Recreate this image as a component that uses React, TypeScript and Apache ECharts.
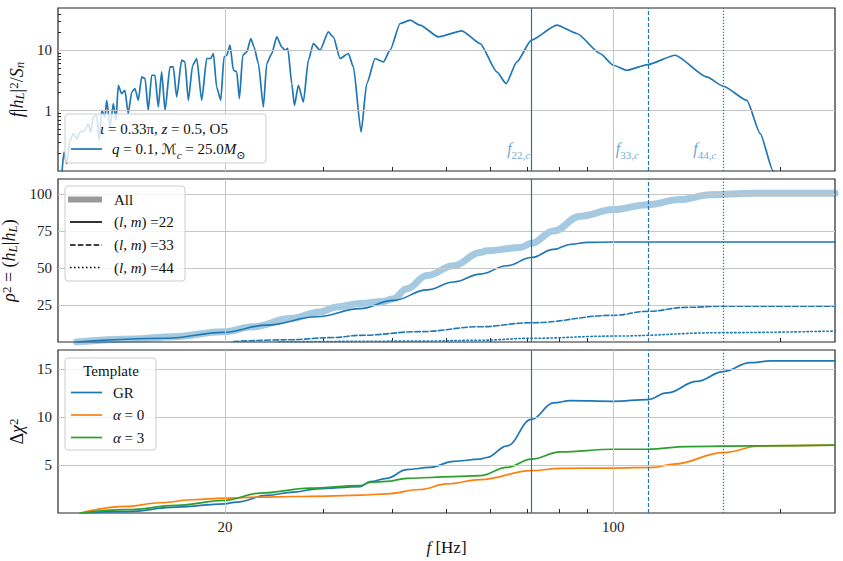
import React, { useEffect, useRef } from "react";
import * as echarts from "echarts";

// ---------- data ----------
const F_MIN = 10;
const F_MAX = 251;
const X_TICKS = [20, 30, 40, 50, 60, 70, 80, 90, 100, 200];
const X_LABELS = [20, 100];
const Y0_TICKS = [0.2, 0.3, 0.4, 0.5, 0.6, 0.7, 0.8, 0.9, 1, 2, 3, 4, 5, 6, 7, 8, 9, 10, 20, 30, 40];
const Y0_LABELS = [1, 10];
const Y1_LABELS = [25, 50, 75, 100];
const Y2_LABELS = [5, 10, 15];

// cut-off frequencies f22,c f33,c f44,c
const F_CUT = [71.2, 115.5, 158];
const CUT_NAMES = ["22,", "33,", "44,"];

// f |h_L|^2 / S_n
const psd: [number, number][] = [
  [10.15, 0.08], [10.25, 0.206], [10.37, 0.132], [10.51, 0.322], [10.66, 0.415], [10.81, 0.343],
  [10.96, 0.442], [11.18, 0.471], [11.34, 0.609], [11.45, 0.442], [11.58, 0.783], [11.74, 0.836],
  [11.87, 0.322], [11.99, 1.01], [12.15, 0.783], [12.24, 1.48], [12.41, 0.535], [12.58, 1.31],
  [12.72, 0.69], [12.84, 2.63], [13.02, 1.91], [13.2, 2.17], [13.38, 0.89], [13.58, 2.03],
  [13.76, 2.32], [13.95, 1.48], [14.15, 3.61], [14.35, 3.4], [14.54, 1.01], [14.75, 3.85],
  [14.95, 3.85], [15.16, 1.15], [15.37, 4.37], [15.59, 1.01], [15.91, 5.28], [16.13, 5.28],
  [16.36, 1.68], [16.7, 6.83], [16.93, 6.4], [17.17, 1.48], [17.48, 5.64], [17.78, 7.29],
  [18.15, 1.48], [18.53, 7.29], [18.84, 7.29], [19.05, 8.82], [19.31, 2.46], [19.64, 1.48],
  [19.91, 7.74], [20.14, 8.26], [20.41, 12.1], [20.7, 4.66], [20.99, 4.37], [21.22, 1.58],
  [21.52, 8.26], [21.88, 9.37], [22.25, 15.6], [22.55, 11.3], [22.96, 6.02], [23.44, 1.15],
  [23.77, 6.02], [24.27, 8.82], [24.78, 16.6], [25.3, 11.3], [25.64, 10], [25.94, 10.7],
  [26.37, 2.8], [26.66, 1.22], [27.1, 2.63], [27.67, 1.39], [28.25, 6.83], [28.84, 12.9],
  [29.65, 10], [30.69, 20.1], [31.33, 16.6], [32.22, 7.29], [33.35, 8.82], [34.05, 5.28],
  [35.15, 0.442], [35.99, 2.8], [37.26, 7.29], [38.56, 6.4], [39.65, 10], [41.33, 27.7],
  [43.08, 31.4], [44.91, 26.0], [48.44, 16.6], [53.39, 20.9], [57.6, 12.9], [61.73, 4.37],
  [64.15, 2.8], [67.07, 6.4], [71.25, 14.7], [79.17, 26.0], [86.04, 18.9], [94.76, 8.82],
  [100.1, 5.64], [105.8, 4.66], [115.5, 5.79], [129.3, 8.26], [147.5, 3.61], [158.0, 2.53],
  [174.1, 1.48], [184.1, 0.415], [194.0, 0.102], [200, 0.05],
];

// rho^2 = (h_L|h_L)
const rhoAll: [number, number][] = [
  [10.8, 0], [13.67, 2.0], [16.13, 3.6], [19.85, 6.9], [22.48, 10.3], [26.18, 15.8],
  [29.65, 20.3], [31.78, 23.7], [35.0, 25.9], [38.56, 27.4], [40.2, 29.2], [42.5, 35.9],
  [46.2, 44.8], [51.6, 51.5], [57.6, 60.4], [59.2, 61.5], [68.0, 63.8], [71.25, 66.6],
  [78.1, 74.9], [87.2, 84.9], [100.1, 89.4], [115.5, 92.7], [132.0, 96.1], [149.6, 99.4],
  [178.9, 100.3], [251.2, 100.3],
];
const rho22: [number, number][] = [
  [10.8, 0], [15.7, 2.5], [19.85, 6.5], [23.77, 11.4], [29.25, 17], [35.0, 22.5],
  [40.2, 28.1], [46.2, 35.2], [51.6, 40.5], [57.6, 45.8], [64.4, 51.5], [71.25, 57],
  [78.1, 62.5], [84.0, 66.0], [90.0, 67.2], [100, 67.5], [251.2, 67.5],
];
const rho33: [number, number][] = [
  [20.7, 0.3], [26, 1.5], [31.3, 3], [35, 4.5], [44.9, 7], [57.6, 10.3], [71.25, 13],
  [100, 18], [115.5, 20.7], [135.8, 23.4], [158, 24.1], [251.2, 24.1],
];
const rho44: [number, number][] = [
  [25, 0.1], [45, 0.6], [57.6, 1.2], [71.25, 2.5], [100, 4], [158, 6.3], [251.2, 7.4],
];

// Delta chi^2
const chiGR: [number, number][] = [
  [10.96, 0], [13.3, 0.15], [16.36, 0.62], [19.94, 0.96], [20.99, 1.14], [23.77, 1.83],
  [26.55, 2.18], [29.25, 2.52], [35.0, 2.76], [36.5, 3.27], [39.1, 3.62], [42.5, 4.52],
  [46.8, 4.76], [51.6, 5.38], [57.6, 5.62], [59.2, 5.79], [64.4, 7.0], [71.25, 9.76],
  [78.1, 11.48], [83.7, 11.72], [100, 11.65], [115.5, 11.83], [124.9, 12.52], [141.5, 13.72],
  [158, 14.75], [176.5, 15.68], [191.9, 15.86], [251.2, 15.86],
];
const chiA0: [number, number][] = [
  [10.96, 0], [13.3, 0.69], [15.27, 1.07], [17.53, 1.38], [19.94, 1.55], [23.12, 1.65],
  [26.55, 1.72], [30.49, 1.76], [35.0, 1.86], [39.1, 2.0], [44.9, 2.45], [50.2, 3.03],
  [57.6, 3.48], [71.25, 4.41], [80.3, 4.66], [100, 4.69], [118.2, 4.76], [128.4, 5.1],
  [158, 6.3], [184.1, 7.0], [251.2, 7.07],
];
const chiA3: [number, number][] = [
  [10.96, 0], [13.3, 0.35], [16.36, 0.79], [19.94, 1.31], [23.12, 2.07], [28.45, 2.59],
  [35.0, 2.86], [36.5, 3.2], [39.1, 3.3], [42.5, 3.62], [51.6, 3.79], [57.6, 3.89],
  [64.4, 4.76], [71.25, 5.62], [80.3, 6.38], [100, 6.65], [115.5, 6.65], [135.8, 6.93],
  [178.9, 7.0], [251.2, 7.07],
];

// ---------- style ----------
const FONT = '"Liberation Serif", "DejaVu Serif", serif';
const MATHFONT = '"Liberation Serif", "DejaVu Serif", "DejaVu Sans", serif';
const BLUE = "#1f77b4";
const ORANGE = "#ff7f0e";
const GREEN = "#2ca02c";
const GRIDC = "#c6c6c6";
const AXC = "#262626";
const CUT_TYPES: any[] = ["solid", [4, 2], [1.2, 1.8]];

const GRIDS = [
  { left: 58, top: 8, width: 777, height: 163 },
  { left: 58, top: 179, width: 777, height: 163 },
  { left: 58, top: 350, width: 777, height: 163 },
];

const richBase = (size: number, color = "#111", lh = size + 8) => ({
  i: { fontFamily: MATHFONT, fontStyle: "italic", fontSize: size, color, lineHeight: lh },
  r: { fontFamily: MATHFONT, fontSize: size, color, lineHeight: lh },
  sub: { fontFamily: MATHFONT, fontSize: Math.round(size * 0.7), color, verticalAlign: "bottom" },
  subi: { fontFamily: MATHFONT, fontStyle: "italic", fontSize: Math.round(size * 0.7), color, verticalAlign: "bottom" },
  sup: { fontFamily: MATHFONT, fontSize: Math.round(size * 0.7), color, verticalAlign: "top" },
  s: { fontFamily: '"DejaVu Serif", "DejaVu Sans", serif', fontStyle: "italic", fontSize: size - 1, color, lineHeight: lh },
});

function gridLines(idx: number, xs: number[], ys: number[]) {
  return {
    type: "line",
    xAxisIndex: idx,
    yAxisIndex: idx,
    data: [],
    z: 1,
    silent: true,
    markLine: {
      silent: true,
      symbol: ["none", "none"],
      label: { show: false },
      animation: false,
      lineStyle: { color: GRIDC, width: 1, type: "solid" },
      data: [...xs.map((v) => ({ xAxis: v })), ...ys.map((v) => ({ yAxis: v }))],
    },
  };
}

function cutLine(idx: number, k: number) {
  return {
    type: "line",
    xAxisIndex: idx,
    yAxisIndex: idx,
    data: [],
    z: 2,
    silent: true,
    color: BLUE,
    markLine: {
      silent: true,
      symbol: ["none", "none"],
      label: { show: false },
      animation: false,
      lineStyle: { color: BLUE, width: 1.2, type: CUT_TYPES[k], opacity: 1 },
      data: [{ xAxis: F_CUT[k] }],
    },
  };
}

function curve(idx: number, data: [number, number][], color: string, width: number, type: any = "solid", z = 3, smooth = 0.3) {
  return {
    type: "line",
    xAxisIndex: idx,
    yAxisIndex: idx,
    data,
    showSymbol: false,
    symbol: "none",
    smooth,
    smoothMonotone: "x",
    clip: true,
    z,
    lineStyle: { color, width, type, cap: "round", join: "round" },
    silent: true,
  };
}

function legendBox(x: number, y: number, w: number, h: number) {
  return {
    type: "rect",
    z: 100,
    shape: { x, y, width: w, height: h, r: 3 },
    style: { fill: "rgba(255,255,255,0.8)", stroke: "#cccccc", lineWidth: 1 },
  };
}
function legendLine(x1: number, x2: number, y: number, color: string, width: number, dash: any = null) {
  return {
    type: "line",
    z: 101,
    shape: { x1, y1: y, x2, y2: y },
    style: { stroke: color, lineWidth: width, lineDash: dash },
  };
}
function legendText(x: number, y: number, text: string, align = "left") {
  return {
    type: "text",
    z: 101,
    x,
    y,
    style: {
      text,
      rich: richBase(15),
      fontFamily: FONT,
      fontSize: 15,
      fill: "#111",
      align,
      verticalAlign: "middle",
    },
  };
}

export default function App() {
  const ref = useRef<HTMLDivElement>(null);
  useEffect(() => {
    if (!ref.current) return;
    const chart = echarts.init(ref.current, null, { renderer: "svg" });

    const xAxes = [0, 1, 2].map((i) => ({
      type: "log",
      logBase: 10,
      gridIndex: i,
      min: F_MIN,
      max: F_MAX,
      axisLine: { show: false },
      axisTick: { show: true, inside: true, length: 4, customValues: X_TICKS, lineStyle: { color: AXC, width: 1 } },
      axisLabel: {
        show: i === 2,
        customValues: X_LABELS,
        fontFamily: FONT,
        fontSize: 15,
        color: "#222",
        margin: 6,
      },
      splitLine: { show: false },
      minorTick: { show: false },
      name: i === 2 ? "{i|f} [Hz]" : "",
      nameLocation: "middle",
      nameGap: 22,
      nameTextStyle: { fontFamily: FONT, fontSize: 17, color: "#111", rich: richBase(17) },
    }));

    const yName = {
      nameLocation: "middle",
      nameTextStyle: { fontFamily: FONT, fontSize: 18, color: "#111", lineHeight: 19, rich: richBase(18, "#111", 19) },
    };
    const yLab = { fontFamily: FONT, fontSize: 15, color: "#222", margin: 6 };

    const yAxes = [
      {
        type: "log",
        logBase: 10,
        gridIndex: 0,
        min: 0.1,
        max: 50,
        axisLine: { show: false },
        axisTick: { show: true, inside: true, length: 3, customValues: Y0_TICKS, lineStyle: { color: AXC } },
        axisLabel: { ...yLab, customValues: Y0_LABELS },
        splitLine: { show: false },
        name: "{i|f}|{i|h}{subi|L}|{sup|2}/{i|S}{subi|n}",
        nameGap: 25,
        ...yName,
      },
      {
        type: "value",
        gridIndex: 1,
        min: 0,
        max: 110,
        axisLine: { show: false },
        axisTick: { show: true, inside: true, length: 4, customValues: Y1_LABELS, lineStyle: { color: AXC } },
        axisLabel: { ...yLab, customValues: Y1_LABELS },
        splitLine: { show: false },
        name: "{i|ρ}{sup|2} = ({i|h}{subi|L}|{i|h}{subi|L})",
        nameGap: 30,
        ...yName,
      },
      {
        type: "value",
        gridIndex: 2,
        min: 0,
        max: 17,
        axisLine: { show: false },
        axisTick: { show: true, inside: true, length: 4, customValues: Y2_LABELS, lineStyle: { color: AXC } },
        axisLabel: { ...yLab, customValues: Y2_LABELS },
        splitLine: { show: false },
        name: "Δ{i|χ}{sup|2}",
        nameGap: 26,
        ...yName,
      },
    ];

    const cutLabelColor = "rgba(31,119,180,0.85)";
    const cutDist = [1, 9, 7];

    const series: any[] = [
      gridLines(0, X_LABELS, Y0_LABELS),
      gridLines(1, X_LABELS, Y1_LABELS),
      gridLines(2, X_LABELS, Y2_LABELS),
      ...[0, 1, 2].flatMap((g) => [0, 1, 2].map((k) => cutLine(g, k))),
      curve(0, psd, BLUE, 1.7, "solid", 3, 0.2),
      {
        type: "scatter",
        xAxisIndex: 0,
        yAxisIndex: 0,
        symbolSize: 0,
        silent: true,
        z: 5,
        data: F_CUT.map((f, k) => ({
          value: [f, 0.24],
          label: {
            show: true,
            position: "left",
            distance: cutDist[k],
            formatter: "{i|f}{sub|" + CUT_NAMES[k] + "}{subi|c}",
            rich: richBase(16, cutLabelColor),
          },
        })),
      },
      curve(1, rhoAll, "rgba(31,119,180,0.4)", 7, "solid", 2, 0.4),
      curve(1, rho22, BLUE, 1.6, "solid", 3, 0.4),
      curve(1, rho33, BLUE, 1.6, [5.5, 2.4], 3, 0.4),
      curve(1, rho44, BLUE, 1.6, [1.5, 2.5], 3, 0.4),
      curve(2, chiGR, BLUE, 1.7, "solid", 3, 0.4),
      curve(2, chiA0, ORANGE, 1.7, "solid", 3, 0.4),
      curve(2, chiA3, GREEN, 1.7, "solid", 3, 0.4),
    ];

    const graphic: any[] = [
      // top legend
      legendBox(65, 114, 201, 49),
      legendText(164, 128.5, "{i|ι} = 0.33{r|π}, {i|z} = 0.5, O5", "center"),
      legendLine(71, 102, 149, BLUE, 1.7),
      legendText(112, 149, "{i|q} = 0.1, {s|ℳ}{subi|c} = 25.0{i|M}{sub|⊙}"),
      // middle legend
      legendBox(65, 186, 120, 95),
      legendLine(68, 102, 199.5, "#9a9a9a", 6),
      legendText(114, 199.5, "All"),
      legendLine(70, 102, 222, "#000", 1.6),
      legendText(114, 222, "({i|l}, {i|m}) =22"),
      legendLine(70, 102, 245, "#000", 1.6, [5.5, 2.4]),
      legendText(114, 245, "({i|l}, {i|m}) =33"),
      legendLine(70, 102, 267.5, "#000", 1.6, [1.5, 2.5]),
      legendText(114, 267.5, "({i|l}, {i|m}) =44"),
      // bottom legend
      legendBox(65, 358, 91, 92),
      legendText(111, 371, "Template", "center"),
      legendLine(71, 102, 392.5, BLUE, 1.7),
      legendText(113, 392.5, "GR"),
      legendLine(71, 102, 415, ORANGE, 1.7),
      legendText(113, 415, "{i|α} = 0"),
      legendLine(71, 102, 437.5, GREEN, 1.7),
      legendText(113, 437.5, "{i|α} = 3"),
    ];

    chart.setOption({
      animation: false,
      backgroundColor: "#ffffff",
      textStyle: { fontFamily: FONT },
      grid: GRIDS.map((g) => ({
        ...g,
        show: true,
        containLabel: false,
        outerBoundsMode: "none",
        borderColor: AXC,
        borderWidth: 1.2,
        backgroundColor: "transparent",
      })),
      xAxis: xAxes,
      yAxis: yAxes,
      series,
      graphic,
    } as any);

    return () => chart.dispose();
  }, []);

  return <div ref={ref} style={{ position: "absolute", left: 0, top: 0, width: 843, height: 561, background: "#fff" }} />;
}
